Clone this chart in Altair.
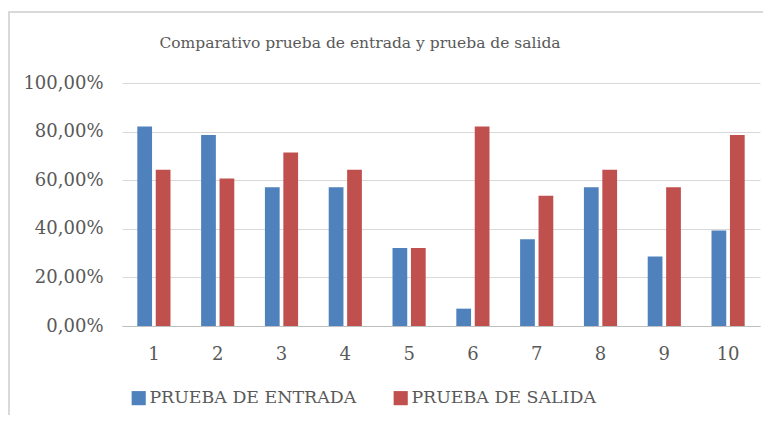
import altair as alt
import pandas as pd

categories = ["1", "2", "3", "4", "5", "6", "7", "8", "9", "10"]
entrada = [0.8214, 0.7857, 0.5714, 0.5714, 0.3214, 0.0714, 0.3571, 0.5714, 0.2857, 0.3929]
salida = [0.6429, 0.6071, 0.7143, 0.6429, 0.3214, 0.8214, 0.5357, 0.6429, 0.5714, 0.7857]
series = ["PRUEBA DE ENTRADA", "PRUEBA DE SALIDA"]
colors = ["#4F81BD", "#C0504D"]
title_text = "Comparativo prueba de entrada y prueba de salida"

rows = []
for c, a, b in zip(categories, entrada, salida):
    rows.append({"cat": c, "serie": series[0], "val": a})
    rows.append({"cat": c, "serie": series[1], "val": b})
df = pd.DataFrame(rows)

FONT = "DejaVu Serif"
GRAY = "#595959"

bars = alt.Chart(df).mark_bar().encode(
    x=alt.X("cat:N", sort=categories, title=None,
            scale=alt.Scale(paddingInner=0.48, paddingOuter=0.24),
            axis=alt.Axis(labelAngle=0, ticks=False, domainColor="#bfbfbf",
                          labelFont=FONT, labelFontSize=18, labelColor=GRAY,
                          labelPadding=19)),
    xOffset=alt.XOffset("serie:N", sort=series, scale=alt.Scale(paddingInner=0.2)),
    y=alt.Y("val:Q", title=None, scale=alt.Scale(domain=[0, 1]),
            axis=alt.Axis(values=[0, 0.2, 0.4, 0.6, 0.8, 1.0], domain=False, ticks=False,
                          labelExpr="replace(format(datum.value, '.2%'), '.', ',')",
                          labelFont=FONT, labelFontSize=18, labelColor=GRAY,
                          labelPadding=19, gridColor="#d9d9d9")),
    color=alt.Color("serie:N", sort=series,
                    scale=alt.Scale(domain=series, range=colors),
                    legend=alt.Legend(title=None, orient="none", direction="horizontal",
                                      legendX=8, legendY=306,
                                      symbolType="square", symbolSize=200,
                                      symbolStrokeWidth=0, labelLimit=0,
                                      labelFont=FONT, labelFontSize=17.4, labelColor=GRAY,
                                      columnPadding=35, labelOffset=2)),
)

frame = pd.DataFrame({"t": [title_text]})
left_line = alt.Chart(frame).mark_rect(color="#d9d9d9").encode(
    x=alt.value(-114), x2=alt.value(-112), y=alt.value(-72), y2=alt.value(340))
top_line = alt.Chart(frame).mark_rect(color="#d9d9d9").encode(
    x=alt.value(-114), x2=alt.value(649), y=alt.value(-72), y2=alt.value(-70))
title = alt.Chart(frame).mark_text(font=FONT, fontSize=15.5, color=GRAY,
                                   align="center", baseline="middle").encode(
    text="t:N", x=alt.value(238), y=alt.value(-40))

chart = alt.layer(bars, left_line, top_line, title).properties(
    width=638, height=243,
    autosize=alt.AutoSizeParams(type="none"),
    padding={"left": 114, "top": 75, "right": 3, "bottom": 89},
).configure_view(stroke=None)

chart.save("out.html", embed_options={"renderer": "svg", "actions": False})
